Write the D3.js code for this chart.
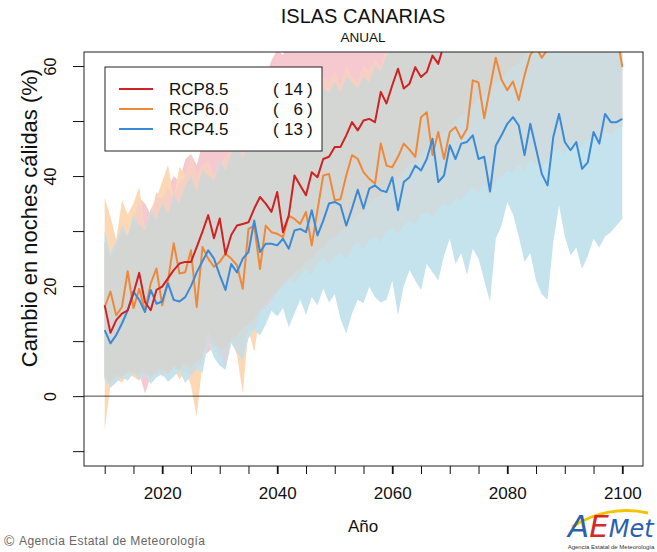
<!DOCTYPE html>
<html><head><meta charset="utf-8">
<script src="https://cdn.jsdelivr.net/npm/d3@7"></script>
<style>
body{margin:0;background:#fff}
svg{display:block}
text{font-family:"Liberation Sans",Arial,Helvetica,sans-serif}
</style>
</head><body>
<svg id="c" width="657" height="552"></svg>
<script>
// ---- data (2010..2100) ----
const years = d3.range(2010, 2101);
const xTickLabels = [2020, 2040, 2060, 2080, 2100];
const yTickLabels = [0, 20, 40, 60];
const seriesNames = ["RCP8.5", "RCP6.0", "RCP4.5"];
const modelCounts = [14, 6, 13];

const rcp85 = [16.5,11.5,13.8,15.0,15.6,18.7,22.4,17.1,15.6,19.3,
 19.9,21.4,22.9,24.1,24.4,24.4,27.1,29.9,32.9,28.7,
 32.3,25.8,29.3,31.0,31.3,31.6,34.1,36.2,35.0,33.5,
 37.1,29.8,32.8,40.1,38.3,36.5,40.7,39.8,43.1,43.5,
 45.3,45.3,47.4,49.8,48.3,50.1,50.4,49.8,55.3,53.2,
 56.5,59.5,55.9,56.8,59.8,58.0,58.9,61.9,60.4,64.0,
 65.5,66.0,67.8,68.5,70.1,69.4,71.8,72.5,74.0,73.2,
 75.6,76.8,76.1,78.3,79.0,80.2,79.5,82.0,83.1,82.4,
 84.8,85.5,86.0,87.7,86.9,89.0,90.2,89.6,91.5,92.0,93.1];
const rcp60 = [16.2,19.0,14.7,16.2,22.7,16.0,19.5,15.5,20.5,23.2,
 16.5,21.0,27.8,22.3,22.5,26.5,16.2,27.1,25.0,23.5,
 24.4,25.9,25.0,23.8,19.5,30.4,31.0,23.1,31.0,29.8,
 29.5,28.9,32.8,32.2,31.3,33.5,27.4,33.8,40.1,40.4,
 35.6,35.8,40.1,43.8,43.1,40.7,39.5,38.6,45.9,41.9,
 41.6,43.5,45.9,44.8,43.5,50.7,51.6,43.8,48.0,43.1,
 48.0,48.9,46.8,48.6,57.4,57.0,50.5,56.0,61.5,57.5,
 55.6,57.2,53.8,58.3,62.0,63.5,61.5,63.0,65.2,67.5,
 66.8,68.0,67.1,69.5,68.4,70.2,69.0,71.3,70.5,66.0,59.8];
const rcp45 = [12.0,9.6,11.1,13.2,15.6,19.0,17.5,15.3,19.3,16.8,
 17.2,20.5,17.5,17.2,18.0,20.0,22.5,24.5,26.5,25.0,
 22.0,19.3,24.0,22.5,25.0,26.2,31.9,26.2,27.7,27.7,
 27.4,28.6,26.8,30.1,30.4,29.8,33.8,29.2,31.9,35.0,
 35.3,34.7,31.0,34.1,37.5,34.1,37.7,38.3,37.4,37.1,
 39.8,33.8,38.9,39.8,41.9,41.0,43.1,46.8,38.9,40.1,
 45.6,43.1,45.9,46.2,47.4,43.1,43.5,37.2,45.5,47.4,
 49.5,50.7,49.2,43.8,49.5,45.0,40.4,38.3,47.1,51.3,
 46.2,44.7,46.2,41.3,42.5,48.0,45.9,51.3,49.8,49.8,50.4];

const rcp85Low = [3.5,2.5,4.0,3.0,4.5,3.8,4.2,0.5,3.5,4.0,
 5.0,4.0,5.5,4.8,6.0,5.0,6.5,7.0,8.0,9.0,
 8.5,5.0,10.5,11.0,12.5,13.0,14.0,15.5,16.0,17.5,
 19.0,20.5,21.0,22.5,23.0,24.5,25.0,26.5,27.0,28.5,
 29.0,30.0,30.5,32.0,33.0,33.5,35.0,36.0,36.5,38.0,
 39.0,39.5,41.0,42.0,42.5,44.0,45.0,45.5,47.0,48.0,
 48.5,50.0,51.0,51.5,53.0,54.0,54.5,56.0,57.0,57.5,
 59.0,60.0,60.5,62.0,63.0,63.5,65.0,66.0,66.5,68.0,
 69.0,69.5,71.0,72.0,72.5,74.0,75.0,75.5,77.0,78.0,78.5];
const rcp85High = [28.0,25.0,27.0,30.0,29.0,32.0,36.0,35.0,33.0,37.0,
 36.0,38.0,40.0,39.0,43.0,44.0,42.0,46.0,47.0,45.0,
 49.0,50.0,52.0,51.0,54.0,56.0,57.0,59.0,58.0,61.0,
 63.0,62.0,65.0,66.0,67.0,68.0,70.0,71.0,72.0,74.0,
 75.0,76.0,78.0,79.0,80.0,82.0,83.0,84.0,86.0,87.0,
 88.0,90.0,91.0,92.0,94.0,95.0,96.0,98.0,99.0,100.0,
 102,103,104,106,107,108,110,111,112,114,
 115,116,118,119,120,122,123,124,126,127,
 128,130,131,132,134,135,136,138,139,140,142];
const rcp60Low = [-6.2,2.0,3.0,2.5,4.0,3.5,2.8,4.5,3.0,4.8,
 3.5,4.0,5.0,3.0,4.5,2.0,-3.8,6.0,12.0,9.5,
 7.0,8.5,10.0,7.5,0.5,12.0,8.0,15.0,17.0,18.0,
 19.0,20.0,21.5,20.5,22.0,23.0,22.0,24.0,25.0,24.0,
 25.5,26.0,25.0,27.0,28.0,26.5,28.5,29.0,28.0,30.0,
 30.5,29.5,31.0,32.0,31.0,33.0,33.5,32.5,34.0,35.0,
 34.5,36.0,35.5,37.0,38.0,37.0,38.5,36.0,39.0,40.0,
 41.0,40.5,42.0,41.0,43.0,42.0,41.5,43.0,44.5,45.0,
 44.0,45.5,46.0,45.0,46.5,47.0,46.0,48.0,47.5,48.5,49.0];
const rcp60High = [36.0,32.6,28.4,35.6,33.0,35.0,38.0,30.0,34.0,36.0,
 39.0,42.0,36.0,41.7,40.0,43.5,40.0,42.0,43.0,40.0,
 42.0,43.5,45.0,46.5,44.0,48.0,50.0,49.0,52.0,53.0,
 55.0,54.0,57.0,56.0,56.0,55.0,57.0,55.0,58.0,57.0,
 59.0,56.0,60.0,58.0,57.0,60.0,59.0,61.0,60.0,63.0,
 64.0,67.0,68.0,67.0,69.0,70.0,71.0,70.0,72.0,73.0,
 74.0,73.0,75.0,76.0,78.0,77.0,78.0,80.0,81.0,80.0,
 82.0,83.0,82.0,84.0,85.0,86.0,85.0,87.0,88.0,87.0,
 89.0,90.0,89.0,91.0,92.0,91.0,93.0,94.0,93.0,95.0,96.0];
const rcp45Low = [3.0,1.5,2.5,3.5,2.8,4.2,3.0,3.8,2.2,3.4,
 4.0,2.6,3.5,4.6,2.4,3.8,5.0,4.2,9.8,7.0,
 5.5,4.8,9.6,8.0,6.5,10.5,12.0,11.0,13.0,15.5,
 14.5,16.0,12.5,15.0,17.5,14.8,18.0,16.5,19.5,17.0,
 18.5,14.0,11.4,15.0,17.5,16.9,19.9,18.0,17.0,17.5,
 21.0,14.7,20.0,22.9,21.0,19.3,24.0,22.5,21.0,25.5,
 28.6,24.0,26.0,22.0,26.8,25.0,21.0,17.1,28.6,31.0,
 35.3,33.0,29.0,24.4,26.0,21.0,18.5,17.5,28.0,34.7,
 29.0,25.6,27.0,23.1,25.5,28.6,27.0,29.0,29.8,31.0,32.2];
const rcp45High = [30.0,26.0,28.0,31.0,29.0,33.0,31.0,30.0,34.0,32.0,
 35.0,33.0,37.0,35.0,38.0,40.0,37.0,41.0,40.0,39.0,
 43.0,41.0,44.0,46.0,43.0,47.0,49.0,46.0,50.0,52.0,
 50.0,53.0,51.0,55.0,54.0,53.0,55.0,54.0,56.0,55.0,
 57.0,55.0,58.0,57.0,56.0,58.0,57.0,60.0,59.0,62.0,
 63.0,64.0,67.0,68.0,67.0,69.0,70.0,71.0,69.0,70.0,
 72.0,71.0,73.0,74.0,75.0,73.0,74.0,72.0,75.0,77.0,
 78.0,79.0,77.0,76.0,78.0,77.0,75.0,74.0,78.0,80.0,
 79.0,78.0,79.0,77.0,78.0,80.0,79.0,81.0,80.0,81.0,82.0];

// ---- styles ----
const lineColors = ["#d02222", "#f0883a", "#3a8ad6"];
const bandColors = ["#f6c8d0", "#fcd8b4", "#c4e3ed"];
// overlap colours: [r&o, r&b, o&b, r&o&b]
const overlapColors = ["#f7d0c4", "#d9d5e0", "#cfdcdf", "#d3d6d3"];

const svg = d3.select("#c");
const x = d3.scaleLinear().domain([2006.4, 2103.6]).range([84, 643]);
const y = d3.scaleLinear().domain([-12.7, 62.55]).range([466, 52]);

svg.append("clipPath").attr("id", "clip").append("rect")
  .attr("x", 84).attr("y", 52).attr("width", 559).attr("height", 414);

const plot = svg.append("g").attr("clip-path", "url(#clip)");

const bands = [[rcp85Low, rcp85High], [rcp60Low, rcp60High], [rcp45Low, rcp45High]];
function drawOverlap(idx, color) {
  const lo = years.map((_, i) => d3.max(idx, k => bands[k][0][i]));
  const hi = years.map((_, i) => d3.min(idx, k => bands[k][1][i]));
  const area = d3.area()
    .defined((d, i) => hi[i] > lo[i])
    .x((d, i) => x(years[i]))
    .y0((d, i) => y(lo[i]))
    .y1((d, i) => y(hi[i]));
  plot.append("path").datum(years).attr("d", area).attr("fill", color);
}
drawOverlap([0], bandColors[0]);
drawOverlap([1], bandColors[1]);
drawOverlap([2], bandColors[2]);
drawOverlap([0, 1], overlapColors[0]);
drawOverlap([0, 2], overlapColors[1]);
drawOverlap([1, 2], overlapColors[2]);
drawOverlap([0, 1, 2], overlapColors[3]);

// zero line
plot.append("line").attr("x1", 84).attr("x2", 643)
  .attr("y1", y(0)).attr("y2", y(0)).attr("stroke", "#444").attr("stroke-width", 1);

const series = [rcp85, rcp60, rcp45];
[1, 2, 0].forEach(k => {
  const line = d3.line().x((d, i) => x(years[i])).y(d => y(d));
  plot.append("path").datum(series[k]).attr("d", line)
    .attr("fill", "none").attr("stroke", lineColors[k])
    .attr("stroke-width", 2).attr("stroke-linejoin", "round");
});

// box
svg.append("rect").attr("x", 84).attr("y", 52).attr("width", 559).attr("height", 414)
  .attr("fill", "none").attr("stroke", "#222").attr("stroke-width", 1);

// x axis
const xAxis = d3.axisBottom(x).tickValues(d3.range(2010, 2101, 5)).tickSize(8)
  .tickFormat(d => xTickLabels.includes(d) ? d : "");
const gx = svg.append("g").attr("transform", "translate(0,466)").call(xAxis);
gx.select(".domain").remove();
gx.selectAll(".tick line").attr("stroke", "#111")
  .attr("stroke-width", d => xTickLabels.includes(d) ? 1.8 : 1);
gx.selectAll(".tick text").attr("font-size", 17).attr("fill", "#111")
  .attr("y", 33).attr("dy", 0).style("font-family", "Liberation Sans, Arial, sans-serif");

// y axis
const yAxis = d3.axisLeft(y).tickValues(d3.range(-10, 61, 10)).tickSize(11)
  .tickFormat(d => yTickLabels.includes(d) ? d : "");
const gy = svg.append("g").attr("transform", "translate(84,0)").call(yAxis);
gy.select(".domain").remove();
gy.selectAll(".tick line").attr("stroke", "#111");
gy.selectAll(".tick text").attr("font-size", 16).attr("fill", "#111")
  .attr("transform", "rotate(-90)").attr("x", 0).attr("y", -28).attr("dy", 0)
  .attr("text-anchor", "middle").style("font-family", "Liberation Sans, Arial, sans-serif");

// titles
svg.append("text").attr("x", 363).attr("y", 23).attr("text-anchor", "middle")
  .attr("font-size", 20).attr("fill", "#111").text("ISLAS CANARIAS");
svg.append("text").attr("x", 363).attr("y", 42).attr("text-anchor", "middle")
  .attr("font-size", 13.5).attr("fill", "#111").text("ANUAL");
svg.append("text").attr("x", 363).attr("y", 532).attr("text-anchor", "middle")
  .attr("font-size", 17).attr("fill", "#111").text("Año");
svg.append("text").attr("transform", "translate(37,218) rotate(-90)")
  .attr("text-anchor", "middle").attr("font-size", 22).attr("fill", "#111")
  .text("Cambio en noches cálidas (%)");

// legend
const lg = svg.append("g");
lg.append("rect").attr("x", 105).attr("y", 67).attr("width", 217).attr("height", 84)
  .attr("fill", "#fff").attr("stroke", "#222").attr("stroke-width", 1);
seriesNames.forEach((n, k) => {
  const yy = 89 + k * 20;
  lg.append("line").attr("x1", 119).attr("x2", 153).attr("y1", yy).attr("y2", yy)
    .attr("stroke", lineColors[k]).attr("stroke-width", 2);
  lg.append("text").attr("x", 169).attr("y", yy + 6).attr("font-size", 17)
    .attr("fill", "#111").text(n);
  lg.append("text").attr("x", 273).attr("y", yy + 6).attr("font-size", 17)
    .attr("fill", "#111").text("(");
  lg.append("text").attr("x", 303).attr("y", yy + 6).attr("font-size", 17)
    .attr("text-anchor", "end").attr("fill", "#111").text(modelCounts[k]);
  lg.append("text").attr("x", 307).attr("y", yy + 6).attr("font-size", 17)
    .attr("fill", "#111").text(")");
});

// footer
svg.append("text").attr("x", 4).attr("y", 546).attr("font-size", 14)
  .attr("fill", "#666").text("\u00A9");
svg.append("text").attr("x", 19).attr("y", 545).attr("font-size", 12)
  .attr("fill", "#666").attr("textLength", 186).attr("lengthAdjust", "spacing")
  .text("Agencia Estatal de Meteorología");

// logo
const logo = svg.append("g");
logo.append("path").attr("d", "M572,527 C595,512 622,507 648,513")
  .attr("fill", "none").attr("stroke", "#f2c400").attr("stroke-width", 3);
const lt = logo.append("text").attr("x", 568).attr("y", 537).attr("font-size", 31)
  .attr("font-style", "italic").style("font-family", "DejaVu Sans, sans-serif");
lt.append("tspan").attr("fill", "#2a5fb0").text("A");
lt.append("tspan").attr("fill", "#d62a2a").text("E");
lt.append("tspan").attr("fill", "#2a5fb0").attr("font-size", 24).text("Met");
logo.append("text").attr("x", 611).attr("y", 549).attr("text-anchor", "middle")
  .attr("font-size", 6).attr("fill", "#333").text("Agencia Estatal de Meteorología");
</script>
</body></html>
